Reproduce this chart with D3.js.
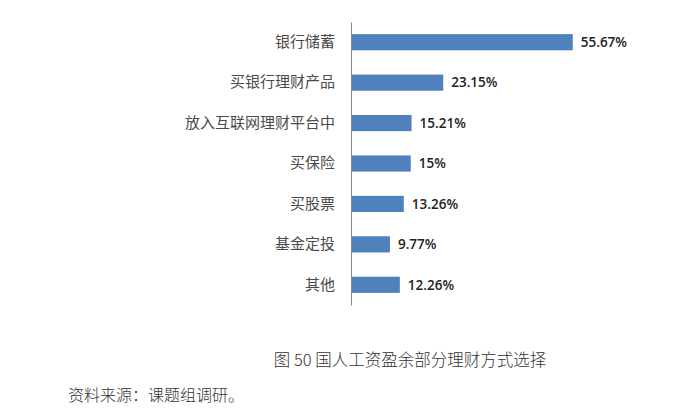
<!DOCTYPE html>
<html>
<head>
<meta charset="utf-8">
<script src="https://cdn.jsdelivr.net/npm/d3@7"></script>
<style>
  body { margin: 0; background: #fff; }
</style>
</head>
<body>
<div id="chart"></div>
<script>
const categories = ["银行储蓄", "买银行理财产品", "放入互联网理财平台中", "买保险", "买股票", "基金定投", "其他"];
const values = [55.67, 23.15, 15.21, 15, 13.26, 9.77, 12.26];
const valueLabels = ["55.67%", "23.15%", "15.21%", "15%", "13.26%", "9.77%", "12.26%"];
const caption = "图 50  国人工资盈余部分理财方式选择";
const source = "资料来源：课题组调研。";

const width = 700, height = 419;
const margin = {top: 22, left: 351, bottom: 114};

const svg = d3.select("#chart")
  .append("svg")
  .attr("width", width)
  .attr("height", height);

const x = d3.scaleLinear()
  .domain([0, 60])
  .range([margin.left, margin.left + 239]);

const y = d3.scaleBand()
  .domain(categories)
  .range([margin.top, height - margin.bottom])
  .paddingInner(0.6)
  .paddingOuter(0.3);

svg.selectAll("rect.bar")
  .data(values)
  .join("rect")
  .attr("class", "bar")
  .attr("x", x(0))
  .attr("y", (d, i) => y(categories[i]))
  .attr("width", d => x(d) - x(0))
  .attr("height", y.bandwidth())
  .attr("fill", "#4f81bd");

const yAxis = svg.append("g")
  .attr("transform", `translate(${x(0)},0)`)
  .call(d3.axisLeft(y).tickSize(0).tickPadding(16));
yAxis.select(".domain").attr("stroke", "#868686");
yAxis.selectAll("text")
  .style("font-family", "'Noto Sans CJK SC', sans-serif")
  .style("font-size", "15px")
  .attr("fill", "#4a4a4a");

svg.selectAll("text.val")
  .data(values)
  .join("text")
  .attr("class", "val")
  .attr("x", d => x(d) + 8)
  .attr("y", (d, i) => y(categories[i]) + y.bandwidth() / 2)
  .attr("dy", "0.35em")
  .style("font-family", "'Open Sans', sans-serif")
  .style("font-size", "13.5px")
  .style("font-weight", "600")
  .attr("fill", "#222")
  .text((d, i) => valueLabels[i]);

svg.append("text")
  .attr("x", 410)
  .attr("y", 366)
  .attr("text-anchor", "middle")
  .style("font-family", "'Noto Sans CJK SC', serif")
  .style("font-size", "16.5px")
  .style("font-weight", "300")
  .attr("fill", "#333")
  .text(caption);

svg.append("text")
  .attr("x", 68)
  .attr("y", 401)
  .style("font-family", "'Noto Sans CJK SC', serif")
  .style("font-size", "16px")
  .style("font-weight", "300")
  .attr("fill", "#333")
  .text(source);
</script>
</body>
</html>
